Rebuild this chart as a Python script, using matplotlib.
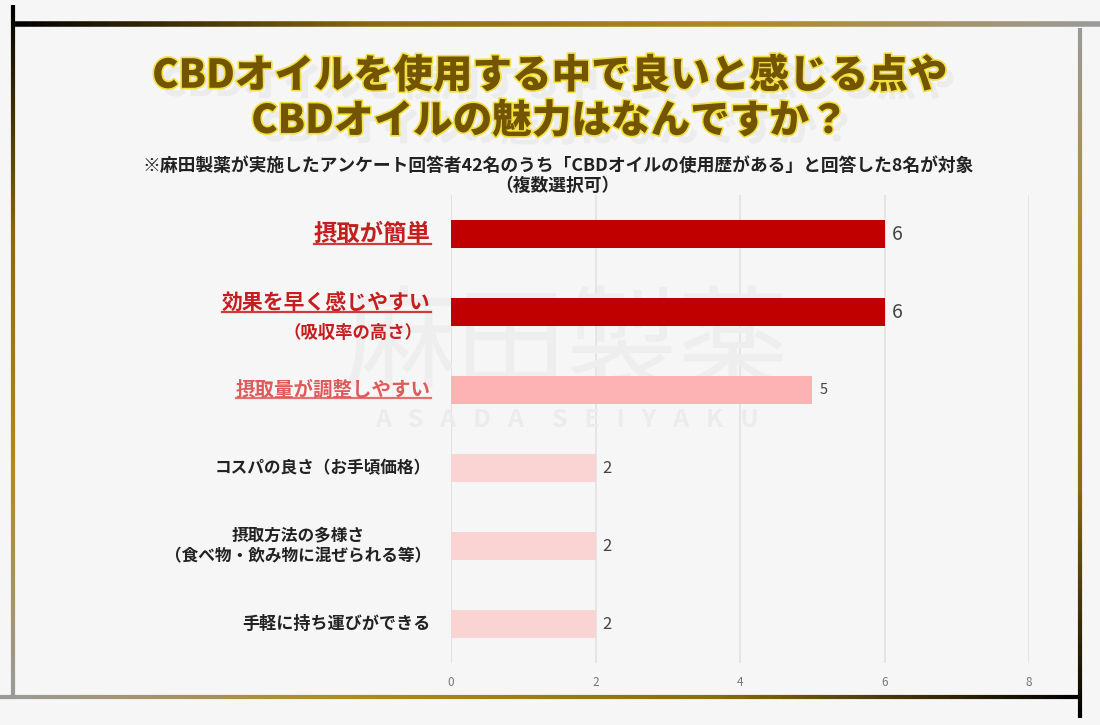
import numpy as np
import matplotlib
matplotlib.use("Agg")
import matplotlib.pyplot as plt
import matplotlib.patheffects as pe
from matplotlib.collections import LineCollection
from matplotlib.colors import LinearSegmentedColormap

plt.rcParams["font.family"] = ["Noto Sans CJK JP", "DejaVu Sans"]

categories = [
    "摂取が簡単",
    "効果を早く感じやすい",
    "摂取量が調整しやすい",
    "コスパの良さ（お手頃価格）",
    "摂取方法の多様さ\n（食べ物・飲み物に混ぜられる等）",
    "手軽に持ち運びができる",
]
sub_labels = ["", "（吸収率の高さ）", "", "", "", ""]
values = [6, 6, 5, 2, 2, 2]
bar_colors = ["#C00000", "#C00000", "#FDB3B3", "#FAD3D3", "#FAD3D3", "#FAD3D3"]
label_colors = ["#C41E1E", "#C41E1E", "#E05A5A", "#222222", "#222222", "#222222"]
label_sizes = [16.8, 15, 14, 12, 12, 12.3]
value_sizes = [14, 14, 10.5, 12, 12, 12]
underline = [True, True, True, False, False, False]
xticks = [0, 2, 4, 6, 8]

title = "CBDオイルを使用する中で良いと感じる点や\nCBDオイルの魅力はなんですか？"
note1 = "※麻田製薬が実施したアンケート回答者42名のうち「CBDオイルの使用歴がある」と回答した8名が対象"
note2 = "（複数選択可）"

bg = "#F6F6F6"
fig = plt.figure(figsize=(11, 7.25), dpi=100, facecolor=bg)
ax = fig.add_axes([0.41, 0.0855, 0.5255, 0.6455], facecolor=bg)

y = np.arange(len(categories))
ax.barh(y, values, height=0.35, color=bar_colors, zorder=3)
ax.set_ylim(len(categories) - 0.5, -0.5)
ax.set_xlim(0, 8)
ax.set_xticks(xticks)
ax.set_xticklabels([str(t) for t in xticks], color="#777777", fontsize=8.5)
ax.tick_params(axis="x", length=0, pad=9)
ax.set_yticks([])
for s in ax.spines.values():
    s.set_visible(False)
ax.grid(axis="x", color="#E2E2E2", linewidth=1.2, zorder=0)
ax.axvline(0, color="#DDDDDD", linewidth=1.2, zorder=1)

# watermark (faint, behind the bars)
ax.text(0.2, 0.675, "麻田製薬", transform=ax.transAxes, ha="center", va="center",
        fontsize=80, color="#EEEEEE", fontweight="normal", zorder=2)
ax.text(0.2, 0.52, "A   S   A   D   A     S   E   I   Y   A   K   U", transform=ax.transAxes,
        ha="center", va="center", fontsize=18, color="#ECECEC", fontweight="bold", zorder=2)

for i, v in enumerate(values):
    ax.text(v + 0.1, i, str(v), va="center", ha="left", fontsize=value_sizes[i],
            color="#444444", zorder=4)

label_texts = []
for i, cat in enumerate(categories):
    off = -0.11 if sub_labels[i] else 0
    t = ax.text(-0.28, i + off, cat, ha="right", va="center", multialignment="center",
                fontsize=label_sizes[i], color=label_colors[i], fontweight="bold", zorder=4)
    label_texts.append(t)
    if sub_labels[i]:
        ax.text(-0.4, i + 0.27, sub_labels[i], ha="right", va="center",
                fontsize=12.5, color=label_colors[i], fontweight="bold", zorder=4)

# title / notes
fig.text(0.5, 0.864, title, ha="center", va="center", fontsize=28.5, fontweight="heavy",
         color="#735400", linespacing=1.18,
         path_effects=[pe.SimplePatchShadow(offset=(6, -6), shadow_rgbFace="#B8B8B8", alpha=0.15),
                       pe.Stroke(linewidth=2.4, foreground="#F0E040"),
                       pe.Normal()])
fig.text(0.507, 0.771, note1, ha="center", va="center", fontsize=12.8, fontweight="bold",
         color="#222222")
fig.text(0.507, 0.743, note2, ha="center", va="center", fontsize=12.8, fontweight="bold",
         color="#222222")

# underlines below highlighted labels
fig.canvas.draw()
renderer = fig.canvas.get_renderer()
inv = fig.transFigure.inverted()
for t, u, c in zip(label_texts, underline, label_colors):
    if not u:
        continue
    bb = t.get_window_extent(renderer)
    (x0, y0), (x1, y1) = inv.transform([(bb.x0, bb.y0 + 2), (bb.x1, bb.y0 + 2)])
    fig.add_artist(plt.Line2D([x0, x1], [y0, y1], color=c, linewidth=1.6, alpha=0.85))

# frame with black-gold gradient
cmap = LinearSegmentedColormap.from_list("frame", ["#000000", "#8A6A10", "#B08A20", "#9A9A9A"])


def grad_line(x0, y0, x1, y1, lw, reverse=False):
    px = np.linspace(x0, x1, 200)
    py = np.linspace(y0, y1, 200)
    pts = np.column_stack([px, py]).reshape(-1, 1, 2)
    segs = np.concatenate([pts[:-1], pts[1:]], axis=1)
    vals = np.linspace(0, 1, len(segs))
    if reverse:
        vals = vals[::-1]
    lc = LineCollection(segs, colors=cmap(vals), linewidths=lw, transform=fig.transFigure)
    fig.add_artist(lc)


W, H = 1100, 725
grad_line(12 / W, 1 - 24 / H, 1100 / W, 1 - 24 / H, 4)
grad_line(13 / W, 1 - 5 / H, 13 / W, 1 - 698 / H, 3)
grad_line(0 / W, 1 - 697 / H, 1080 / W, 1 - 697 / H, 3, reverse=True)
grad_line(1080 / W, 1 - 28 / H, 1080 / W, 1 - 718 / H, 3, reverse=True)

fig.savefig("out.png", dpi=100, facecolor=bg)
